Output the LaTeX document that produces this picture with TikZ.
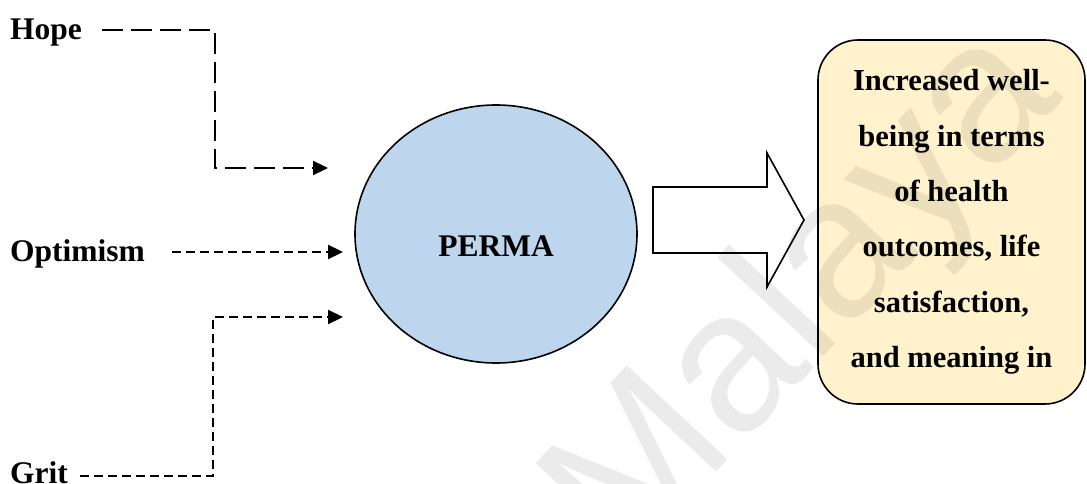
\documentclass[tikz,border=0pt]{standalone}
\usepackage{fontspec}
\setmainfont{Liberation Serif}
\newfontfamily\marksans{Liberation Sans}
\usetikzlibrary{arrows.meta,shapes.geometric}

\definecolor{permablue}{RGB}{189,214,238}
\definecolor{outcomeyellow}{RGB}{255,242,204}

\begin{document}
\begin{tikzpicture}[x=1pt,y=-1pt,
  lbl/.style={font=\fontsize{31.5}{37}\selectfont\bfseries, inner sep=0pt},
  tipstyle/.style={-{Triangle[length=15pt,width=14pt]}},
  longdash/.style={tipstyle, line width=2.3pt, dash pattern=on 21pt off 8pt},
  shortdash/.style={tipstyle, line width=2.3pt, dash pattern=on 9pt off 5pt},
  outline/.style={draw=black, line width=1.6pt},
]
% canvas
\fill[white] (0,0) rectangle (1087,484);
\useasboundingbox (0,0) rectangle (1087,484);

% input labels
\node[lbl, anchor=base west] (hope) at (10,40) {Hope};
\node[lbl, anchor=base west] (optimism) at (10,261) {Optimism};
\node[lbl, anchor=base west] (grit) at (10,483) {Grit};

% central construct
\node[outline, ellipse, fill=permablue, minimum width=282pt, minimum height=258pt,
      inner sep=0pt] (perma) at (496,234) {};
\node[lbl] (permatext) at (496,246) {PERMA};

% outcome box
\node[outline, rounded corners=40pt, fill=outcomeyellow, minimum width=267pt,
      minimum height=364pt, inner sep=0pt, align=center,
      font=\fontsize{30.5}{55.3}\selectfont\bfseries] (outcome) at (951.5,222)
  {Increased well-\\being in terms\\of health\\outcomes, life\\satisfaction,\\and meaning in};

% end points and bends of the dashed connectors
\coordinate (hopeBend) at (215,168);
\coordinate (hopeEnd) at (328,168);
\coordinate (optEnd) at (343,252);
\coordinate (gritBend) at (213,317);
\coordinate (gritEnd) at (343,317);

\draw[longdash] ([xshift=20pt,yshift=10pt]hope.base east) -| (hopeBend) -- (hopeEnd);
\draw[shortdash] ([xshift=27pt,yshift=9pt]optimism.base east) -- (optEnd);
\draw[shortdash] ([xshift=12pt,yshift=7pt]grit.base east) -| (gritBend) -- (gritEnd);

% block arrow from PERMA to the outcome
\draw[outline, fill=white] (653,187) -- (767,187) -- (767,153) -- (804,220)
  -- (767,287) -- (767,253) -- (653,253) -- cycle;

% watermark
\node[font=\marksans\fontsize{200}{200}\selectfont, text=black, opacity=0.08,
      rotate=47, inner sep=0pt, anchor=base west] (mark) at (625,570) {Malaya};
\end{tikzpicture}
\end{document}
